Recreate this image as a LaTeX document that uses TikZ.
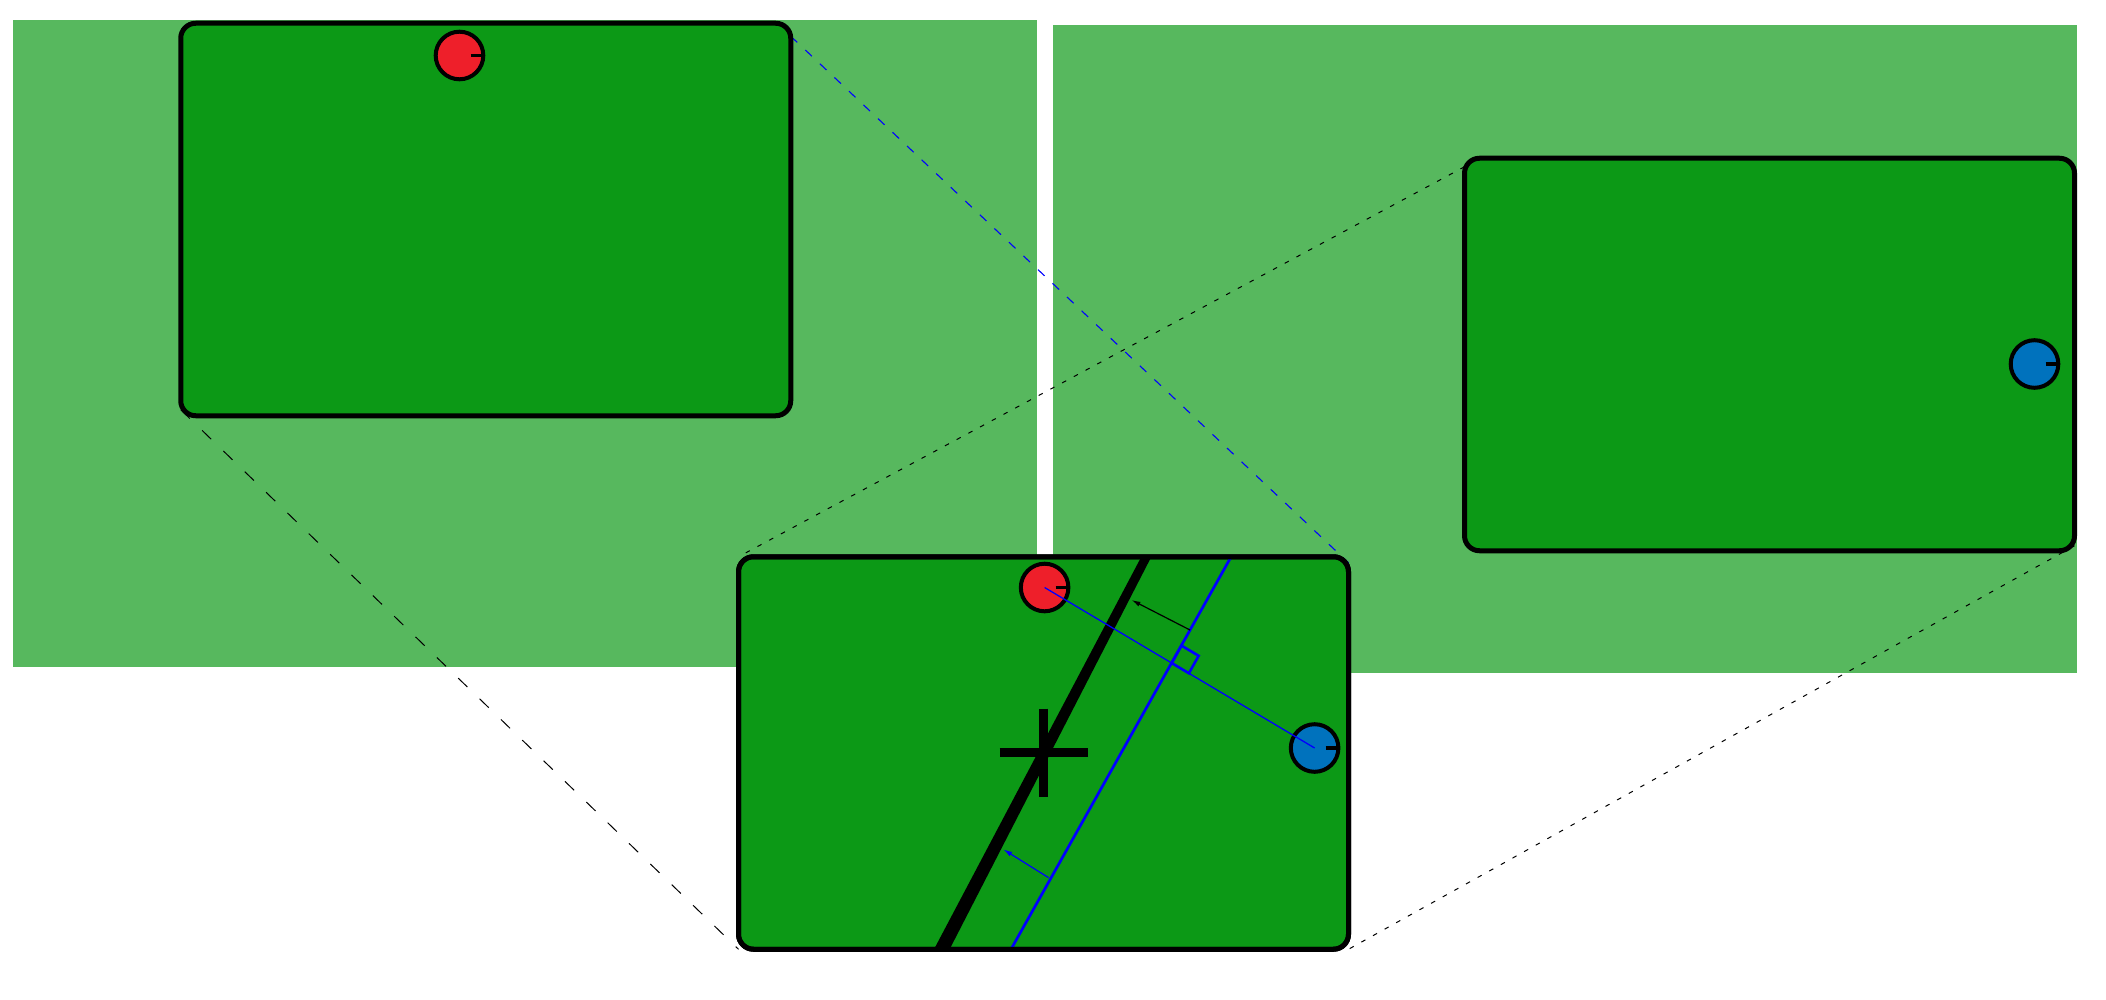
\documentclass[tikz,border=0pt]{standalone}
\usetikzlibrary{calc,arrows.meta}
\definecolor{bglight}{RGB}{87,184,94}
\definecolor{fieldgreen}{RGB}{12,153,22}
\definecolor{robred}{RGB}{238,31,42}
\definecolor{robblue}{RGB}{0,114,189}
\tikzset{
  field/.style={draw=black, fill=fieldgreen, line width=5pt, rounded corners=15pt,
    minimum width=610pt, minimum height=392.5pt, inner sep=0pt, outer sep=0pt},
  robot/.style={circle, draw=black, line width=4pt, minimum size=47.6pt, inner sep=0pt, outer sep=0pt},
  robtick/.style={line width=3.5pt},
  projlong/.style={black, line width=1pt, dash pattern=on 12.7pt off 17pt},
  projblue/.style={blue, line width=1.1pt, dash pattern=on 9pt off 11pt},
  projshort/.style={black, line width=1pt, dash pattern=on 4.6pt off 8.7pt},
  bisector/.style={blue, line width=2.7pt},
  joinline/.style={blue, line width=1.3pt},
  pusharrow/.style={line width=1.2pt, -{Latex[length=9pt,width=5pt]}},
}
\begin{document}
\begin{tikzpicture}[x=1pt,y=-1pt]
\useasboundingbox (0,0) rectangle (2106,1000);
% backgrounds
\fill[bglight] (13,20) rectangle (1037,667);
\fill[bglight] (1053,25) rectangle (2077,673);
% field frames (positions only, drawn below)
\path (485.75,219.5) node[field, draw=none, fill=none] (lf) {};
\path (1769.5,354.5) node[field, draw=none, fill=none] (rf) {};
\path (1043.5,753) node[field, draw=none, fill=none] (bf) {};
% projection lines
\draw[projlong] ($(lf.south west)+(0,-6)$) -- (bf.south west);
\draw[projblue] ($(lf.north east)+(0,13)$) -- ($(bf.north east)+(0,6)$);
\draw[projshort] ($(rf.north west)+(0,8.5)$) -- (bf.north west);
\draw[projshort] ($(rf.south east)+(0,-5)$) -- (bf.south east);
% fields
\node[field] (lf2) at (lf) {};
\node[field] (rf2) at (rf) {};
\node[field] (bf2) at (bf) {};
% robots in top fields
\node[robot, fill=robred] (ra) at (459.5,55.5) {};
\draw[robtick] ($(ra.center)+(11,0)$) -- ($(ra.center)+(24,0)$);
\node[robot, fill=robblue] (rb) at (2034.5,364) {};
\draw[robtick] ($(rb.center)+(11,0)$) -- ($(rb.center)+(24,0)$);
% bottom field content
\coordinate (bt) at (1234.9,550);
\coordinate (bb) at (1006.1,958);
\begin{scope}
  \clip[rounded corners=15pt] (bf.south west) rectangle (bf.north east);
  \fill[black] (1144.9,550) -- (1154.8,550) -- (945.1,958) -- (929.4,958) -- cycle;
  \draw[bisector] (bt) -- (bb);
\end{scope}
\draw[line width=5pt, rounded corners=15pt] (bf.south west) rectangle (bf.north east);
% cross at centre
\coordinate (cx) at (1043.5,752.5);
\draw[line width=9.5pt] ($(cx)+(-44,0)$) -- ($(cx)+(44,0)$);
\draw[line width=9.5pt] ($(cx)+(0,-44)$) -- ($(cx)+(0,44)$);
% arrows
\coordinate (a1s) at (1190,630);
\coordinate (a1e) at (1131.5,600);
\draw[pusharrow, black] (a1s) -- (a1e);
\coordinate (a2s) at (1048.6,877.7);
\coordinate (a2e) at (1003.2,849.3);
\draw[pusharrow, blue] (a2s) -- (a2e);
% robots in bottom field
\node[robot, fill=robred] (rc) at (1044.6,587.5) {};
\draw[robtick] ($(rc.center)+(11,0)$) -- ($(rc.center)+(24,0)$);
\node[robot, fill=robblue] (bc) at (1314.6,748) {};
\draw[robtick] ($(bc.center)+(11,0)$) -- ($(bc.center)+(24,0)$);
\draw[joinline] (rc.center) -- (bc.center);
% right angle mark
\coordinate (P) at (intersection of rc.center--bc.center and bt--bb);
\coordinate (Pw) at ($(P)!20pt!(bt)$);
\coordinate (Pu) at ($(P)!20pt!(bc.center)$);
\draw[blue, line width=2.6pt] (P) -- (Pw) -- ($(Pw)+(Pu)-(P)$) -- (Pu) -- cycle;
\end{tikzpicture}
\end{document}
